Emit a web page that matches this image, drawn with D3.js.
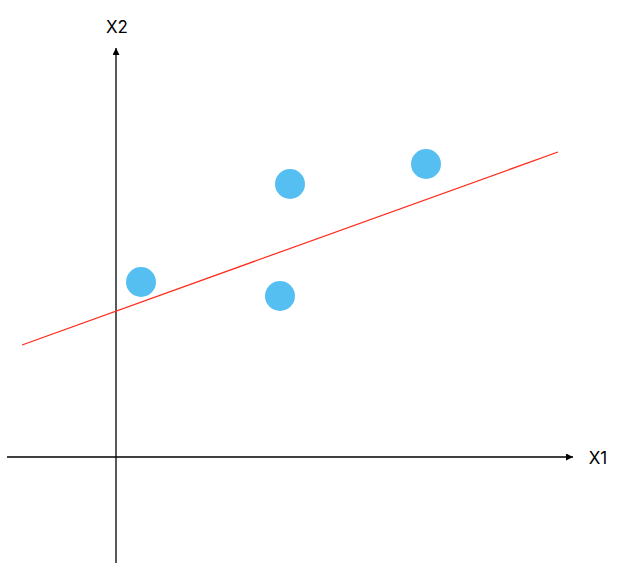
<!DOCTYPE html>
<html><head><meta charset="utf-8">
<script src="https://cdn.jsdelivr.net/npm/d3@7"></script>
<style>body{margin:0;background:#fff}</style>
</head><body>
<script>
const pointsX = [0.5, 3.48, 3.28, 6.2];
const pointsY = [3.5, 5.46, 3.22, 5.86];
const lineX = [-1.88, 8.84];
const lineY = [2.24, 6.1];
const axisLabels = ["X1", "X2"];
const xExtent = [-2.18, 9.14];
const yExtent = [-2.12, 8.18];

const W = 629, H = 570;
const x = d3.scaleLinear().domain(xExtent).range([7, 573]);
const y = d3.scaleLinear().domain(yExtent).range([563, 48]);

const svg = d3.select("body").append("svg").attr("width", W).attr("height", H);
const defs = svg.append("defs");
defs.append("marker").attr("id", "arr").attr("viewBox", "0 0 10 10")
  .attr("refX", 10).attr("refY", 5).attr("markerWidth", 7).attr("markerHeight", 7)
  .attr("markerUnits", "userSpaceOnUse").attr("orient", "auto")
  .append("path").attr("d", "M0,0 L10,5 L0,10 z").attr("fill", "#000");

svg.append("line").attr("x1", x(xExtent[0])).attr("x2", x(xExtent[1]))
  .attr("y1", y(0)).attr("y2", y(0)).attr("stroke", "#000").attr("stroke-width", 1.3)
  .attr("marker-end", "url(#arr)");
svg.append("line").attr("x1", x(0)).attr("x2", x(0))
  .attr("y1", y(yExtent[0])).attr("y2", y(yExtent[1])).attr("stroke", "#000").attr("stroke-width", 1.3)
  .attr("marker-end", "url(#arr)");

svg.append("text").attr("x", x(xExtent[1]) + 25).attr("y", y(0) + 6.5)
  .attr("text-anchor", "middle").attr("font-family", "Inter, 'Noto Sans', sans-serif")
  .attr("font-size", 17).attr("fill", "#000").text(axisLabels[0]);
svg.append("text").attr("x", x(0) + 1).attr("y", y(yExtent[1]) - 15)
  .attr("text-anchor", "middle").attr("font-family", "Inter, 'Noto Sans', sans-serif")
  .attr("font-size", 17).attr("fill", "#000").text(axisLabels[1]);

svg.append("line").attr("x1", x(lineX[0])).attr("y1", y(lineY[0]))
  .attr("x2", x(lineX[1])).attr("y2", y(lineY[1]))
  .attr("stroke", "#ff2a1a").attr("stroke-width", 1.2);

svg.selectAll("circle.pt").data(pointsX.map((v, i) => [v, pointsY[i]])).join("circle")
  .attr("class", "pt").attr("cx", d => x(d[0])).attr("cy", d => y(d[1]))
  .attr("r", 15).attr("fill", "#56bff2");
</script>
</body></html>
